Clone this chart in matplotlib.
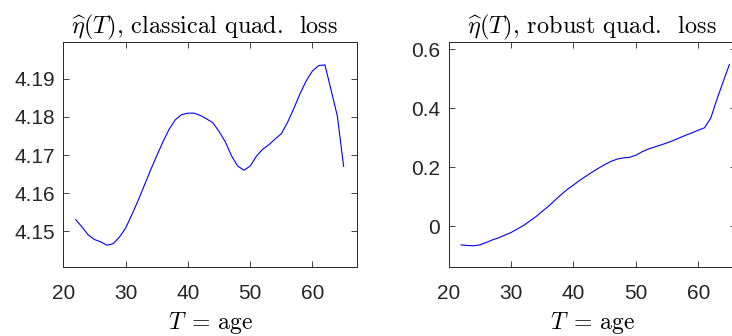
import matplotlib
matplotlib.use("Agg")
import matplotlib.pyplot as plt
import numpy as np

plt.rcParams['mathtext.fontset'] = 'cm'
plt.rcParams['font.family'] = ['Liberation Sans', 'DejaVu Sans']

ages = list(range(22, 66))
eta_classical = [4.1530, 4.1511, 4.1490, 4.1478, 4.1472, 4.1463, 4.1467, 4.1484, 4.1508, 4.1543,
                 4.1580, 4.1620, 4.1660, 4.1698, 4.1735, 4.1768, 4.1793, 4.1806, 4.1810, 4.1810,
                 4.1804, 4.1795, 4.1785, 4.1762, 4.1735, 4.1698, 4.1671, 4.1660, 4.1671, 4.1697,
                 4.1715, 4.1727, 4.1742, 4.1756, 4.1786, 4.1822, 4.1861, 4.1895, 4.1921, 4.1935,
                 4.1937, 4.1870, 4.1802, 4.1670]
eta_robust = [-0.064, -0.066, -0.067, -0.064, -0.056, -0.047, -0.040, -0.031, -0.022, -0.010,
              0.002, 0.017, 0.032, 0.050, 0.067, 0.087, 0.106, 0.124, 0.139, 0.155,
              0.169, 0.183, 0.196, 0.208, 0.219, 0.227, 0.231, 0.233, 0.240, 0.252,
              0.261, 0.268, 0.275, 0.282, 0.290, 0.299, 0.308, 0.316, 0.325, 0.333,
              0.366, 0.430, 0.490, 0.548]

x_ticks = [20, 30, 40, 50, 60]
y_ticks_left = [4.15, 4.16, 4.17, 4.18, 4.19]
y_ticks_right = [0, 0.2, 0.4, 0.6]
y_ticklabels_right = ['0', '0.2', '0.4', '0.6']
titles = [r'$\widehat{\eta}(T)$, classical quad.  loss',
          r'$\widehat{\eta}(T)$, robust quad.  loss']
title_x = [0.483, 0.5]
xlabel = r'$T\;=\,\mathrm{age}$'

W, H = 732, 336
fig = plt.figure(figsize=(W / 100, H / 100), dpi=100)
gray = (0.15, 0.15, 0.15)

axL = fig.add_axes([63.3 / W, 1 - 267.3 / H, (356.7 - 63.3) / W, (267.3 - 42) / H])
axR = fig.add_axes([448.7 / W, 1 - 267.3 / H, (735.7 - 448.7) / W, (267.3 - 42) / H])

axL.plot(ages, eta_classical, color=(0, 0, 1), lw=0.8)
axR.plot(ages, eta_robust, color=(0, 0, 1), lw=0.8)

axL.set_xlim(20, 67.1)
axL.set_ylim(4.1405, 4.1997)
axL.set_yticks(y_ticks_left)
axL.set_yticklabels([f'{v:.2f}' for v in y_ticks_left])

axR.set_xlim(20, 66)
axR.set_ylim(-0.14, 0.624)
axR.set_yticks(y_ticks_right)
axR.set_yticklabels(y_ticklabels_right)

for ax, t, tx in zip([axL, axR], titles, title_x):
    ax.set_xticks(x_ticks)
    ax.set_xticklabels([str(v) for v in x_ticks])
    ax.tick_params(direction='in', top=True, right=True, length=4, width=0.6,
                   colors=gray, labelsize=15, pad=6)
    ax.tick_params(axis='x', pad=12)
    for s in ax.spines.values():
        s.set_color(gray)
        s.set_linewidth(0.7)
    ax.set_title(t, fontsize=17.5, color='black', pad=6.5, x=tx, family=['cmr10'])
    ax.set_xlabel(xlabel, fontsize=17, color='black', labelpad=5)

fig.savefig('out.png', dpi=100)
